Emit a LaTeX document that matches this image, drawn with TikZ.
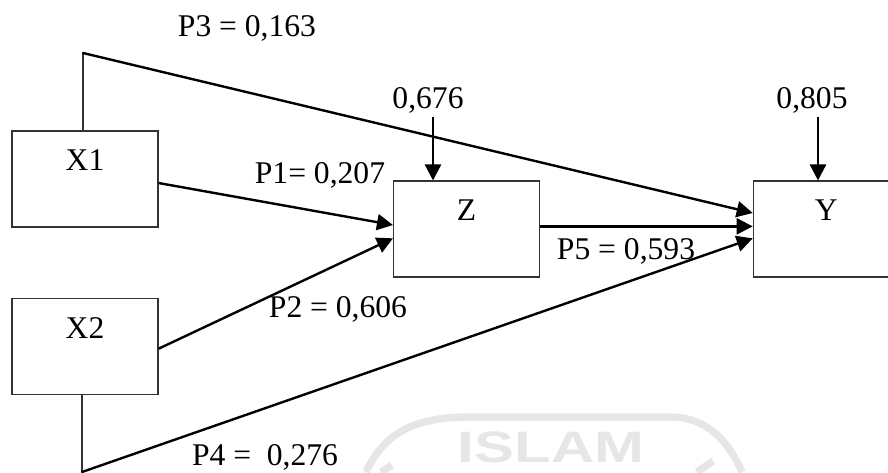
\documentclass[tikz,border=0pt]{standalone}
\usepackage{fontspec}
\setmainfont{Liberation Serif}
\setsansfont{Liberation Sans}
\usepackage{tikz}
\usetikzlibrary{arrows.meta, positioning}
\definecolor{sealgray}{HTML}{E6E6E6}

\begin{document}
\begin{tikzpicture}[
    x=0.75pt, y=-0.75pt,
    varbox/.style={rectangle, draw=black!80, line width=0.8pt, minimum width=109.5pt, minimum height=72pt,
                inner sep=0pt, align=center, font=\fontsize{23.7}{28}\selectfont},
    arrow/.style={-{Triangle[length=12pt, width=12pt]}, line width=1.8pt},
    stem/.style={line width=0.8pt, draw=black!80},
    pathlabel/.style={inner sep=0pt, font=\fontsize{23.7}{28}\selectfont},
    seal/.style={draw=sealgray, line width=5.5pt},
]
  \useasboundingbox (0,0) rectangle (888,472);

  % Faint seal behind the model
  \draw[seal] (366,472) .. controls (385,432) and (415,417) .. (470,417) -- (670,417) .. controls (710,417) and (730,445) .. (742,472);
  \draw[seal] (381,472) -- (392,465);
  \draw[seal] (697,472) -- (713,461);
  \node[font=\sffamily\bfseries\fontsize{33}{33}\selectfont, text=sealgray, inner sep=0pt, xscale=1.36] (sealtext) at (551,447) {ISLAM};

  % Boxes
  \node[varbox] (x1) at (85,179) {X1\\~};
  \node[varbox, below=53pt of x1] (x2) {X2\\~};
  \node[varbox] (z) at (466.5,229) {Z\\~};
  \node[varbox, right=159.5pt of z] (y) {Y\\~};

  % Bends of the two direct paths
  \coordinate (bendtop) at (83,53);
  \coordinate (bendbottom) at (82,472);
  \draw[stem] (bendtop) -- (bendtop |- x1.north);
  \draw[stem] (bendbottom) -- (bendbottom |- x2.south);

  % Error terms
  \node[pathlabel] (ez) at (428,100) {0,676};
  \node[pathlabel] (ey) at (812,100) {0,805};
  \coordinate (ezfoot) at (433,117);
  \coordinate (eyfoot) at (818,117);
  \draw[arrow] (ezfoot) -- (ezfoot |- z.north);
  \draw[arrow] (eyfoot) -- (eyfoot |- y.north);

  % Paths
  \draw[arrow] ([yshift=-3pt]x1.east) -- ([yshift=3pt]z.west);
  \draw[arrow] ([yshift=-1.5pt]x2.east) -- ([yshift=-7pt]z.west);
  \draw[arrow] ([yshift=2pt]z.east) -- ([yshift=2pt]y.west);
  \draw[arrow, line cap=round] (bendtop) -- ([yshift=12pt]y.west);
  \draw[arrow, line cap=round] (bendbottom) -- ([yshift=-7pt]y.west);

  % Path labels
  \node[pathlabel] (p3) at (247,28) {P3 = 0,163};
  \node[pathlabel] (p1) at (320,175) {P1= 0,207};
  \node[pathlabel] (p2) at (338,309) {P2 = 0,606};
  \node[pathlabel] (p5) at (626,251) {P5 = 0,593};
  \node[pathlabel] (p4) at (265,457) {P4 =\ \ 0,276};
\end{tikzpicture}
\end{document}
